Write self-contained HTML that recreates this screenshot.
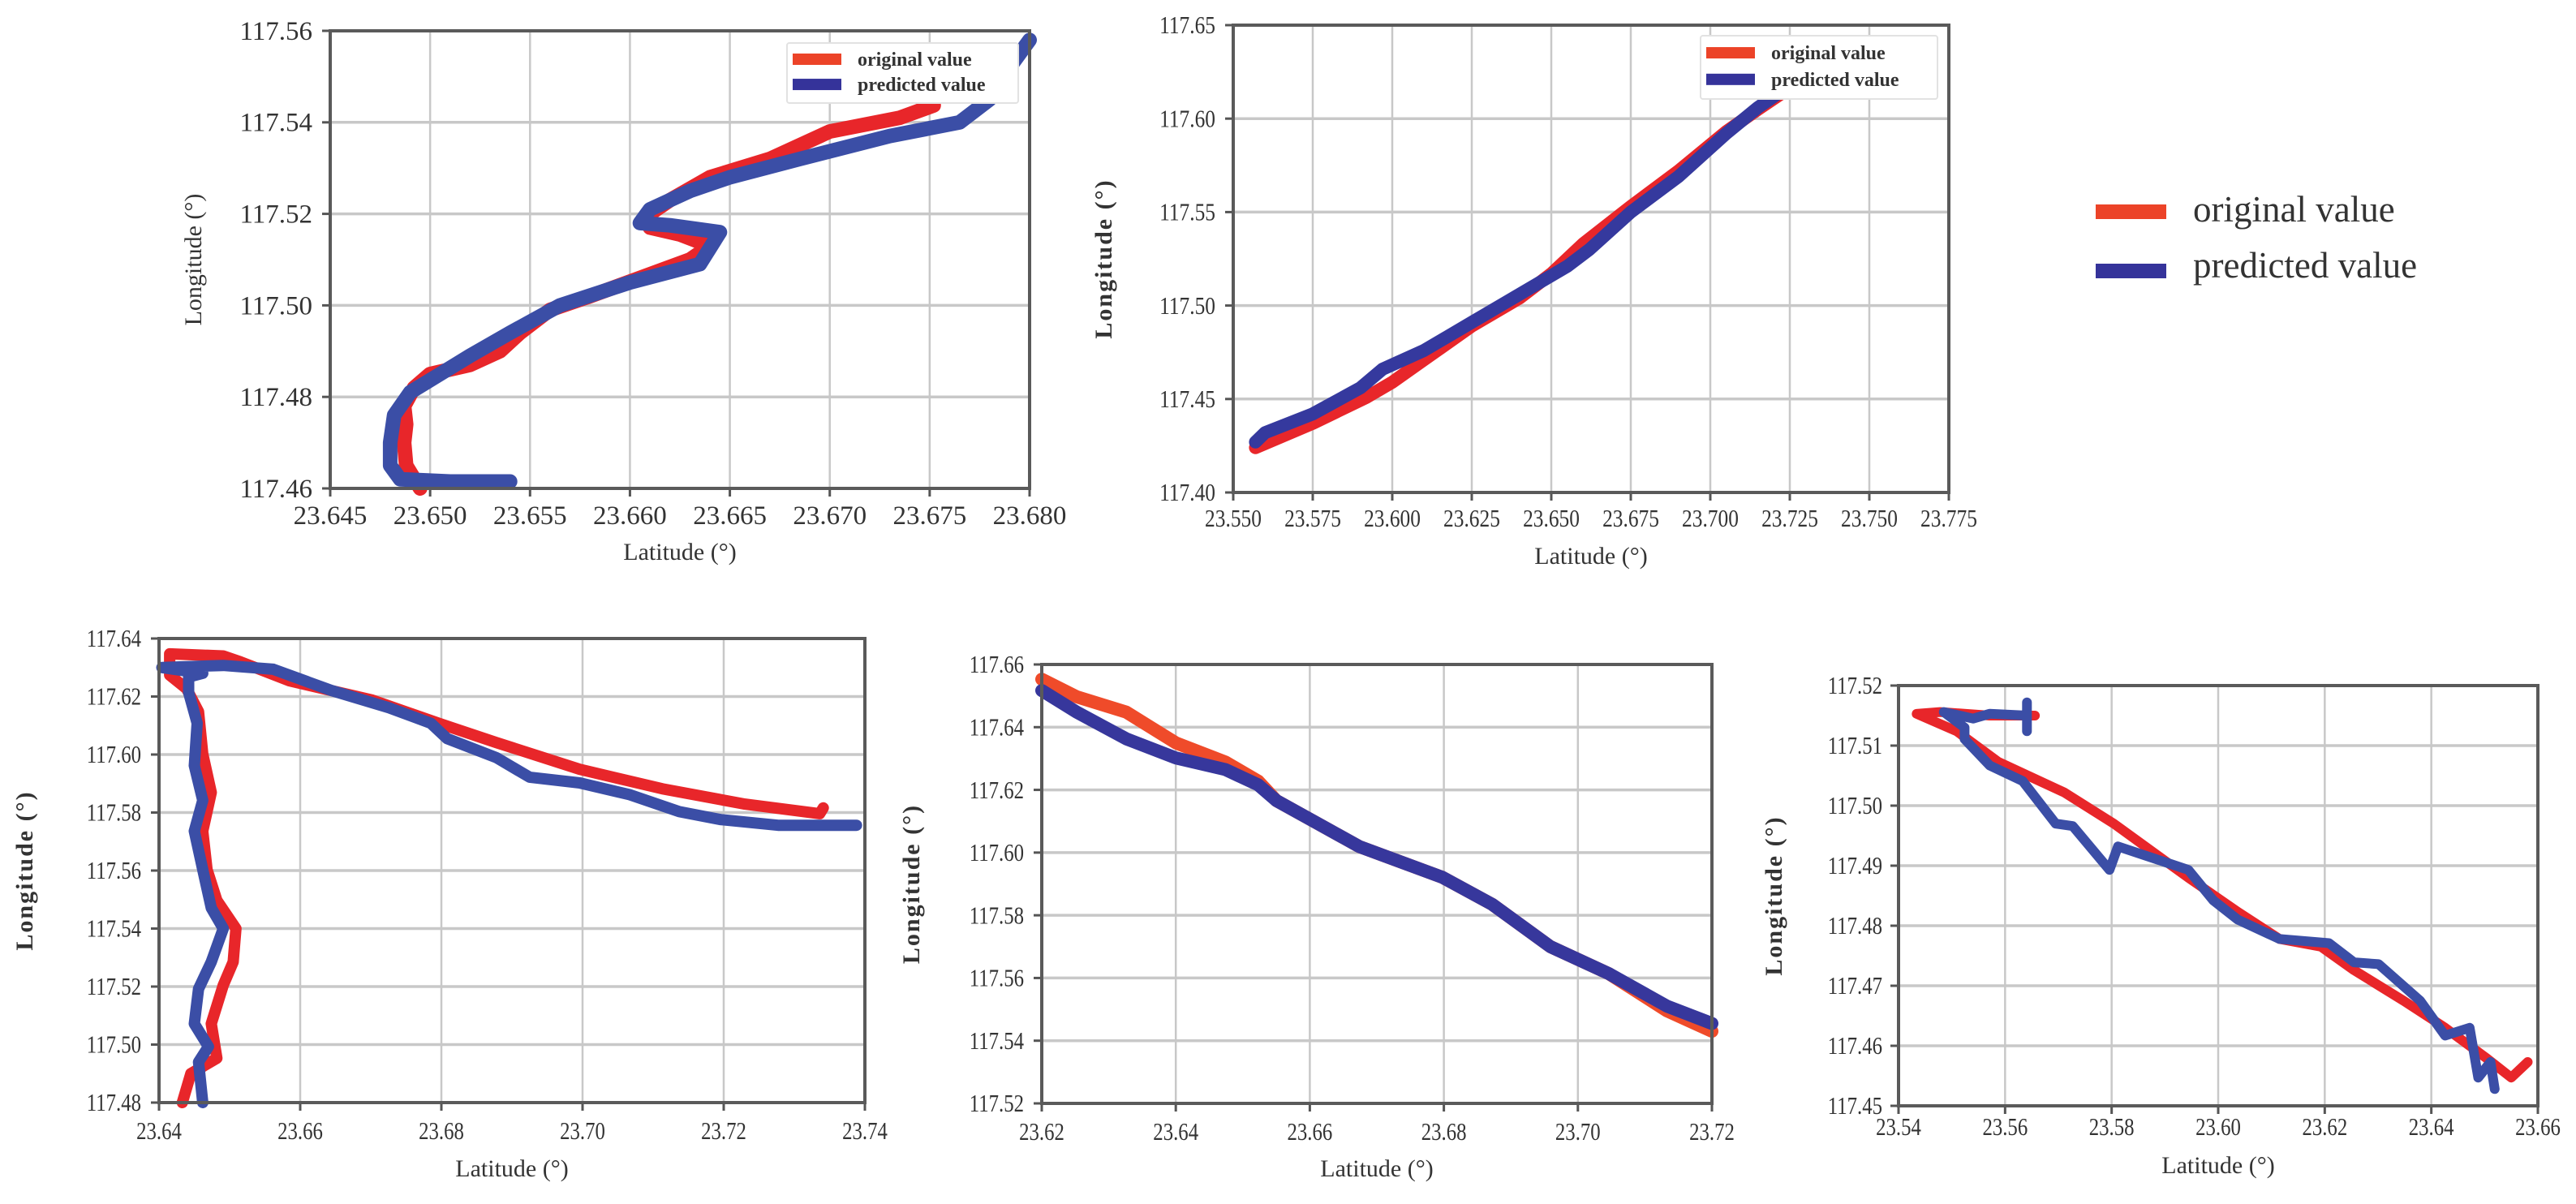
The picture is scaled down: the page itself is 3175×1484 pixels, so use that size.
<!DOCTYPE html>
<html><head><meta charset="utf-8">
<style>
html,body{margin:0;padding:0;background:#fff;}
svg{display:block;}
text{font-family:"Liberation Serif",serif;fill:#333;}
</style></head>
<body>
<svg id="fig" width="3175" height="1484" viewBox="0 0 3175 1484" xmlns="http://www.w3.org/2000/svg">
  <g>
    <rect x="2583" y="252" width="87" height="18" fill="#ec4328"/>
    <text x="2703" y="273" font-size="45">original value</text>
    <rect x="2583" y="325" width="87" height="18" fill="#35339a"/>
    <text x="2703" y="342" font-size="45">predicted value</text>
  </g>
</svg>
<script>
// ---------- Panel 1 data ----------
const p1XTicks = ["23.645","23.650","23.655","23.660","23.665","23.670","23.675","23.680"];
const p1YTicks = ["117.46","117.48","117.50","117.52","117.54","117.56"];
const p1OrigLat = [23.6495,23.6488,23.6487,23.6488,23.6487,23.6492,23.650,23.652,23.6535,23.6545,23.656,23.658,23.6605,23.663,23.664,23.6625,23.661,23.661,23.662,23.664,23.667,23.670,23.6735,23.6752];
const p1OrigLon = [117.460,117.465,117.470,117.474,117.478,117.482,117.485,117.487,117.490,117.494,117.499,117.502,117.506,117.510,117.513,117.5155,117.517,117.520,117.523,117.528,117.532,117.538,117.541,117.5437];
const p1PredLat = [23.654,23.651,23.6485,23.648,23.648,23.6482,23.649,23.6505,23.652,23.654,23.6565,23.660,23.6635,23.6645,23.662,23.6605,23.661,23.663,23.665,23.6685,23.673,23.6765,23.678,23.679,23.680];
const p1PredLon = [117.4615,117.4615,117.462,117.465,117.470,117.476,117.481,117.485,117.489,117.494,117.500,117.505,117.509,117.516,117.5175,117.518,117.521,117.525,117.528,117.532,117.537,117.540,117.545,117.552,117.558];
// ---------- Panel 2 data ----------
const p2XTicks = ["23.550","23.575","23.600","23.625","23.650","23.675","23.700","23.725","23.750","23.775"];
const p2YTicks = ["117.40","117.45","117.50","117.55","117.60","117.65"];
const p2OrigLat = [23.557,23.575,23.592,23.600,23.610,23.625,23.640,23.650,23.660,23.675,23.690,23.705,23.715,23.722];
const p2OrigLon = [117.424,117.437,117.451,117.459,117.471,117.489,117.504,117.517,117.533,117.553,117.572,117.593,117.605,117.613];
const p2PredLat = [23.557,23.560,23.575,23.590,23.597,23.610,23.625,23.640,23.655,23.662,23.675,23.690,23.705,23.715,23.721];
const p2PredLon = [117.427,117.432,117.442,117.456,117.466,117.476,117.491,117.506,117.521,117.530,117.550,117.569,117.592,117.606,117.613];
// ---------- Panel 3 data ----------
const p3XTicks = ["23.64","23.66","23.68","23.70","23.72","23.74"];
const p3YTicks = ["117.48","117.50","117.52","117.54","117.56","117.58","117.60","117.62","117.64"];
const p3OrigLat = [23.6433,23.6445,23.6482,23.6474,23.6491,23.6505,23.6509,23.6482,23.6468,23.6462,23.6474,23.6462,23.6456,23.6439,23.6415,23.6415,23.6491,23.6515,23.6585,23.6702,23.6796,23.6878,23.6996,23.7113,23.7230,23.7336,23.7341];
const p3OrigLon = [117.480,117.490,117.4953,117.5072,117.5205,117.5285,117.540,117.5497,117.5603,117.5736,117.5869,117.6002,117.6148,117.6227,117.6274,117.6347,117.634,117.632,117.6254,117.6188,117.6108,117.6041,117.5949,117.5882,117.5829,117.5796,117.5816];
const p3PredLat = [23.6462,23.6456,23.6470,23.6450,23.6456,23.6474,23.6491,23.6474,23.6462,23.6450,23.6462,23.6450,23.6454,23.6442,23.6442,23.6462,23.6404,23.6491,23.6562,23.6644,23.6726,23.6785,23.6808,23.6878,23.6925,23.6996,23.7066,23.7137,23.7195,23.7277,23.7388];
const p3PredLon = [117.480,117.494,117.4993,117.5072,117.5192,117.5285,117.540,117.5471,117.5603,117.5736,117.5842,117.5962,117.6108,117.6214,117.6267,117.628,117.630,117.6307,117.6294,117.6221,117.6161,117.6108,117.6055,117.5989,117.5922,117.5902,117.5862,117.5803,117.5776,117.5756,117.5756];
// ---------- Panel 4 data ----------
const p4XTicks = ["23.62","23.64","23.66","23.68","23.70","23.72"];
const p4YTicks = ["117.52","117.54","117.56","117.58","117.60","117.62","117.64","117.66"];
const p4OrigLat = [23.620,23.6252,23.6326,23.640,23.6474,23.6523,23.655,23.6674,23.6798,23.6872,23.6959,23.7046,23.7133,23.720];
const p4OrigLon = [117.6553,117.6497,117.6448,117.635,117.6289,117.6228,117.6166,117.6019,117.5921,117.5835,117.570,117.5614,117.5495,117.543];
const p4PredLat = [23.620,23.6252,23.6326,23.640,23.6474,23.6523,23.655,23.6674,23.6798,23.6872,23.6959,23.7046,23.7133,23.720];
const p4PredLon = [117.6517,117.6448,117.6363,117.6302,117.6265,117.6216,117.6166,117.6019,117.5921,117.5835,117.570,117.5614,117.5510,117.5455];
// ---------- Panel 5 data ----------
const p5XTicks = ["23.54","23.56","23.58","23.60","23.62","23.64","23.66"];
const p5YTicks = ["117.45","117.46","117.47","117.48","117.49","117.50","117.51","117.52"];
const p5OrigLat = [23.5656,23.5571,23.5478,23.5434,23.5509,23.5587,23.5711,23.5804,23.5944,23.6037,23.6115,23.6193,23.6255,23.6348,23.6426,23.6504,23.6550,23.6581];
const p5OrigLon = [117.515,117.515,117.5156,117.5153,117.5124,117.5073,117.5022,117.497,117.488,117.4823,117.4778,117.4765,117.4726,117.4675,117.463,117.4579,117.4547,117.4573];
const p5PredLat = [23.5641,23.5641,23.5641,23.5571,23.5540,23.5485,23.5524,23.5524,23.5571,23.5633,23.5695,23.5727,23.5796,23.5812,23.5944,23.5991,23.6037,23.6115,23.6208,23.6255,23.6301,23.6379,23.6426,23.6472,23.6488,23.6511,23.6519];
const p5PredLon = [117.5172,117.5124,117.515,117.5153,117.5145,117.5156,117.513,117.5111,117.5067,117.5041,117.497,117.4966,117.4893,117.4932,117.4893,117.4842,117.481,117.4778,117.4771,117.4739,117.4736,117.4675,117.4617,117.463,117.4547,117.4573,117.4528];

const NS = "http://www.w3.org/2000/svg";
const svg = document.getElementById("fig");
function mk(tag, attrs, parent){
  const e = document.createElementNS(NS, tag);
  for (const k in attrs) e.setAttribute(k, attrs[k]);
  (parent||svg).appendChild(e);
  return e;
}
function drawPanel(id, geo, xTicks, yTicks, series){
  const g = mk("g", {});
  
  
  const x0 = parseFloat(xTicks[0]), x1 = parseFloat(xTicks[xTicks.length-1]);
  const y0 = parseFloat(yTicks[0]), y1 = parseFloat(yTicks[yTicks.length-1]);
  const sx = v => geo.L + (v - x0) / (x1 - x0) * (geo.R - geo.L);
  const sy = v => geo.B - (v - y0) / (y1 - y0) * (geo.B - geo.T);
  xTicks.forEach(t => {
    const x = sx(parseFloat(t));
    const l = mk("line", {x1:x, x2:x, y1:geo.T, y2:geo.B, stroke:"#c8c8c8", "stroke-width":2.5}, g);
    
    
    const tk = mk("line", {x1:x, x2:x, y1:geo.B, y2:geo.B+10, stroke:"#555", "stroke-width":3}, g);
    
    
    const tx = mk("text", {x:x, y:geo.B+geo.xlOff, "font-size":geo.fs, "text-anchor":"middle"}, g);
    
    
    if (geo.cond) { tx.setAttribute('transform', `translate(${x},0) scale(${geo.cond},1) translate(${-x},0)`); }
    tx.textContent = t;
  });
  yTicks.forEach(t => {
    const y = sy(parseFloat(t));
    const l = mk("line", {x1:geo.L, x2:geo.R, y1:y, y2:y, stroke:"#c8c8c8", "stroke-width":3.5}, g);
    
    
    const tk = mk("line", {x1:geo.L-10, x2:geo.L, y1:y, y2:y, stroke:"#555", "stroke-width":3}, g);
    
    
    const tx = mk("text", {x:geo.L-geo.ylOff, y:y+geo.fs*0.33, "font-size":geo.fs, "text-anchor":"end"}, g);
    
    
    if (geo.cond) { const ax = geo.L-geo.ylOff; tx.setAttribute('transform', `translate(${ax},0) scale(${geo.cond},1) translate(${-ax},0)`); }
    tx.textContent = t;
  });
  series.forEach(s => {
    const pts = s.lat.map((v,i) => sx(v).toFixed(1) + "," + sy(s.lon[i]).toFixed(1)).join(" ");
    const p = mk("polyline", {points:pts, fill:"none", stroke:s.color, "stroke-width":geo.lw, "stroke-linejoin":"round", "stroke-linecap":"round"}, g);
    
    
  });
  const fr = mk("rect", {x:geo.L, y:geo.T, width:geo.R-geo.L, height:geo.B-geo.T, fill:"none", stroke:"#5a5a5a", "stroke-width":4}, g);
  
  
  const xt = mk("text", {x:(geo.L+geo.R)/2, y:geo.xtY, "font-size":geo.tfs, "text-anchor":"middle"}, g);
  
  
  xt.textContent = "Latitude (°)";
  const cy = (geo.T+geo.B)/2;
  const yt = mk("text", {x:geo.ytX, y:cy, "font-size":geo.tfs, "text-anchor":"middle", transform:`rotate(-90 ${geo.ytX} ${cy})`, "font-weight":geo.ytBold?"bold":"normal", "letter-spacing":geo.ytBold?2:0}, g);
  
  
  yt.textContent = "Longitude (°)";
  return g;
}
function smallLegend(g, x, y, w, h, fs){
  const lg = mk("g", {}, g);
  
  
  const bx = mk("rect", {x:x, y:y, width:w, height:h, fill:"#fff", stroke:"#e2e2e2", "stroke-width":2, rx:3}, lg);
  
  
  const r1 = mk("rect", {x:x+7, y:y+h*0.27-7, width:60, height:14, fill:"#ec4328"}, lg);
  
  
  const t1 = mk("text", {x:x+87, y:y+h*0.27+8, "font-size":fs, "font-weight":"bold", fill:"#444"}, lg);
  
  
  t1.textContent = "original value";
  const r2 = mk("rect", {x:x+7, y:y+h*0.69-7, width:60, height:14, fill:"#35339a"}, lg);
  
  
  const t2 = mk("text", {x:x+87, y:y+h*0.69+8, "font-size":fs, "font-weight":"bold", fill:"#444"}, lg);
  
  
  t2.textContent = "predicted value";
}
const RED = "#e8262a", BLUE = "#3b4ea6";
const g1 = drawPanel("panel-1", {L:407,R:1269,T:38,B:602,fs:33,xlOff:44,ylOff:22,lw:18,xtY:690,ytX:248,tfs:30},
  p1XTicks, p1YTicks,
  [{lat:p1OrigLat, lon:p1OrigLon, color:RED, name:"series-original"},
   {lat:p1PredLat, lon:p1PredLon, color:BLUE, name:"series-predicted"}]);
smallLegend(g1, 970, 53, 285, 74, 24);
const g2 = drawPanel("panel-2", {L:1520,R:2402,T:31,B:607,fs:31,xlOff:42,ylOff:22,lw:16,xtY:695,ytX:1370,tfs:30,cond:0.82,ytBold:true},
  p2XTicks, p2YTicks,
  [{lat:p2OrigLat, lon:p2OrigLon, color:RED, name:"series-original"},
   {lat:p2PredLat, lon:p2PredLon, color:"#35399e", name:"series-predicted"}]);
smallLegend(g2, 2096, 44, 292, 78, 24);
drawPanel("panel-3", {L:196,R:1066,T:787,B:1359,fs:31,xlOff:45,ylOff:22,lw:14,xtY:1450,ytX:40,tfs:30,cond:0.8,ytBold:true},
  p3XTicks, p3YTicks,
  [{lat:p3OrigLat, lon:p3OrigLon, color:RED, name:"series-original"},
   {lat:p3PredLat, lon:p3PredLon, color:BLUE, name:"series-predicted"}]);
drawPanel("panel-4", {L:1284,R:2110,T:819,B:1360,fs:31,xlOff:45,ylOff:22,lw:16,xtY:1450,ytX:1133,tfs:30,cond:0.8,ytBold:true},
  p4XTicks, p4YTicks,
  [{lat:p4OrigLat, lon:p4OrigLon, color:"#ef4b2a", name:"series-original"},
   {lat:p4PredLat, lon:p4PredLon, color:"#37379c", name:"series-predicted"}]);
drawPanel("panel-5", {L:2340,R:3128,T:845,B:1363,fs:31,xlOff:36,ylOff:20,lw:12,xtY:1446,ytX:2196,tfs:30,cond:0.8,ytBold:true},
  p5XTicks, p5YTicks,
  [{lat:p5OrigLat, lon:p5OrigLon, color:RED, name:"series-original"},
   {lat:p5PredLat, lon:p5PredLon, color:BLUE, name:"series-predicted"}]);
</script>
</body></html>
